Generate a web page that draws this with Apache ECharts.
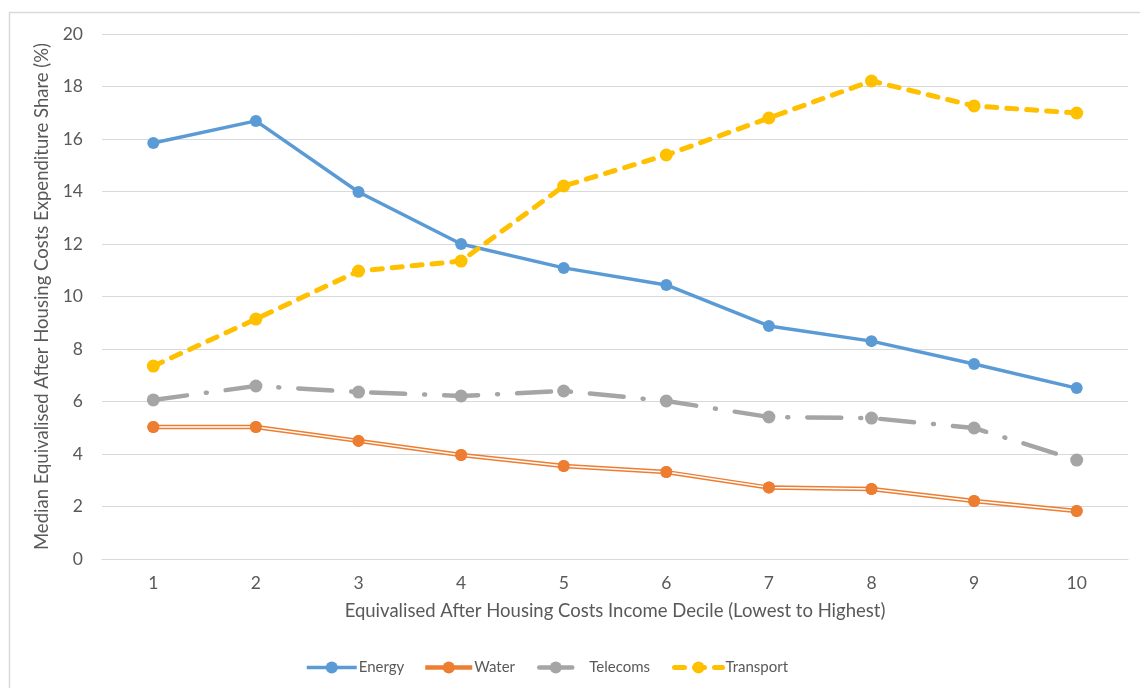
<!DOCTYPE html>
<html>
<head>
<meta charset="utf-8">
<script src="https://cdn.jsdelivr.net/npm/echarts@6/dist/echarts.min.js"></script>
<style>
html, body { margin: 0; padding: 0; background: #fff; }
#chart { width: 1140px; height: 688px; }
</style>
</head>
<body>
<div id="chart"></div>
<script>
var deciles = ['1', '2', '3', '4', '5', '6', '7', '8', '9', '10'];
var energy = [15.85, 16.69, 13.98, 12.0, 11.09, 10.44, 8.88, 8.30, 7.43, 6.51];
var water = [5.03, 5.03, 4.50, 3.96, 3.54, 3.31, 2.72, 2.67, 2.21, 1.83];
var telecoms = [6.06, 6.59, 6.36, 6.21, 6.40, 6.02, 5.41, 5.37, 4.99, 3.77];
var transport = [7.35, 9.14, 10.97, 11.35, 14.21, 15.39, 16.80, 18.21, 17.26, 16.99];
var yTicks = [0, 2, 4, 6, 8, 10, 12, 14, 16, 18, 20];

var font = 'Lato, "Open Sans", sans-serif';
var textColor = '#595959';
var gridColor = '#d9d9d9';

// one legend per item so each can sit where Excel put it
function legendItem(name, left, width, lineStyle, textPad) {
    return {
        data: [name],
        left: left,
        top: 660,
        itemWidth: width,
        itemHeight: 15,
        itemGap: 0,
        padding: 0,
        lineStyle: lineStyle,
        textStyle: { color: textColor, fontSize: 15, fontFamily: font, padding: [0, 0, 0, textPad] }
    };
}

var myChart = echarts.init(document.getElementById('chart'));
var option = {
    backgroundColor: '#fff',
    animation: false,
    textStyle: { fontFamily: font },
    graphic: [{
        type: 'rect',
        shape: { x: 9.5, y: 12.5, width: 1200, height: 800 },
        style: { fill: 'none', stroke: gridColor, lineWidth: 1.5 },
        silent: true
    }],
    legend: [
        legendItem('Energy', 305, 50, { width: 3.5 }, -3),
        legendItem('Water', 423, 47, { width: 4.5 }, -3),
        legendItem('Telecoms', 537, 33, { width: 4.5, type: 'solid' }, 12),
        legendItem('Transport', 672, 48, { width: 5 }, -2)
    ],
    grid: {
        left: 102,
        right: 12,
        top: 34,
        bottom: 129
    },
    xAxis: {
        type: 'category',
        data: deciles,
        boundaryGap: true,
        name: 'Equivalised After Housing Costs Income Decile (Lowest to Highest)',
        nameLocation: 'middle',
        nameGap: 43,
        nameTextStyle: { color: textColor, fontSize: 18.5, fontFamily: font },
        axisLine: { show: true, lineStyle: { color: gridColor } },
        axisTick: { show: false },
        axisLabel: { color: textColor, fontSize: 17.5, margin: 15, fontFamily: font }
    },
    yAxis: {
        type: 'value',
        min: yTicks[0],
        max: yTicks[yTicks.length - 1],
        interval: 2,
        name: 'Median Equivalised After Housing Costs Expenditure Share (%)',
        nameLocation: 'middle',
        nameGap: 48,
        nameTextStyle: { color: textColor, fontSize: 18.5, fontFamily: font },
        axisLine: { show: false },
        axisTick: { show: false },
        axisLabel: { color: textColor, fontSize: 17.5, margin: 19, fontFamily: font },
        splitLine: { show: true, lineStyle: { color: gridColor, width: 1 } }
    },
    series: [
        {
            name: 'Energy',
            type: 'line',
            data: energy,
            symbol: 'circle',
            symbolSize: 12,
            itemStyle: { color: '#5B9BD5' },
            lineStyle: { color: '#5B9BD5', width: 3.5 },
            z: 3
        },
        {
            name: 'Water',
            type: 'line',
            data: water,
            symbol: 'circle',
            symbolSize: 12,
            itemStyle: { color: '#ED7D31' },
            lineStyle: { color: '#ED7D31', width: 4.5 },
            z: 3
        },
        {
            // white core of the double water line
            name: 'water-core',
            type: 'line',
            data: water,
            symbol: 'none',
            lineStyle: { color: '#ffffff', width: 1.5 },
            silent: true,
            z: 4
        },
        {
            // water markers drawn over the core
            name: 'water-dots',
            type: 'line',
            data: water,
            symbol: 'circle',
            symbolSize: 12,
            itemStyle: { color: '#ED7D31' },
            lineStyle: { opacity: 0 },
            silent: true,
            z: 5
        },
        {
            name: 'Telecoms',
            type: 'line',
            data: telecoms,
            symbol: 'circle',
            symbolSize: 13,
            itemStyle: { color: '#A5A5A5' },
            lineStyle: { color: '#A5A5A5', width: 4.5, type: [34, 19, 1, 19], cap: 'round' },
            z: 3
        },
        {
            name: 'Transport',
            type: 'line',
            data: transport,
            symbol: 'circle',
            symbolSize: 13,
            itemStyle: { color: '#FFC000' },
            lineStyle: { color: '#FFC000', width: 5, type: [10, 10], cap: 'round' },
            z: 3
        }
    ]
};
myChart.setOption(option);
</script>
</body>
</html>
